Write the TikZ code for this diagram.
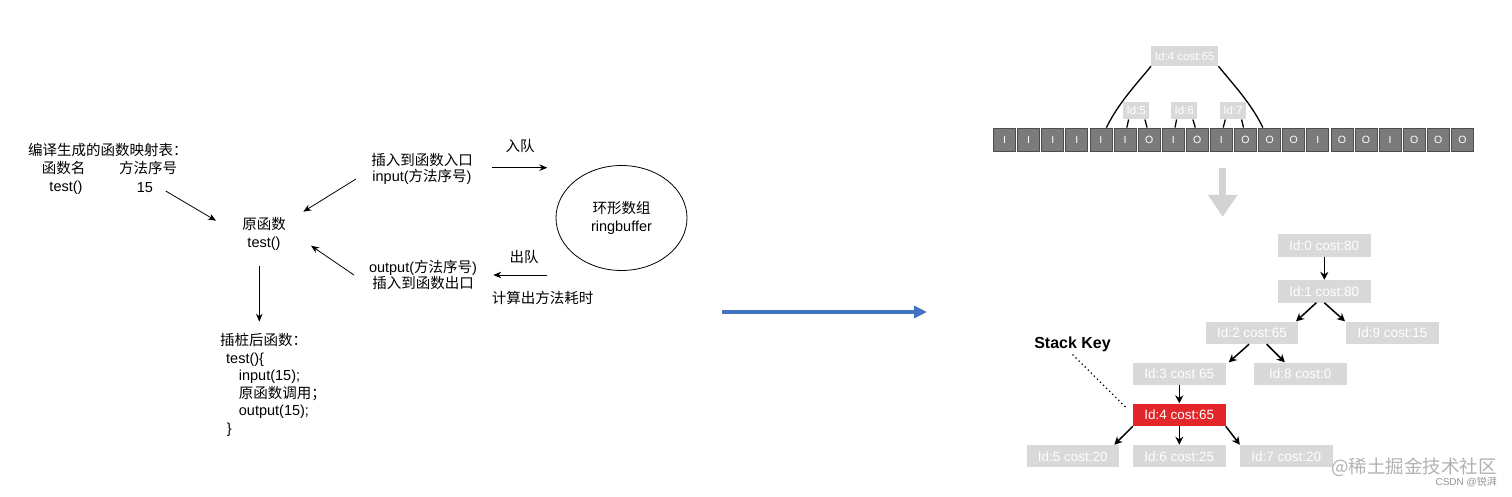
\documentclass[tikz,border=0pt]{standalone}
\usepackage{fontspec}
\setmainfont{Liberation Sans}
\newfontfamily\cjk{Noto Sans CJK SC}
\usetikzlibrary{arrows.meta,shapes.geometric}
\definecolor{boxgray}{HTML}{D9D9D9}
\definecolor{cellgray}{HTML}{7B7B7B}
\definecolor{celledge}{HTML}{4D4D4D}
\definecolor{redbox}{HTML}{E3262A}
\definecolor{blueline}{HTML}{4472C4}
\definecolor{arrgray}{HTML}{D3D3D3}
\begin{document}
\begin{tikzpicture}[x=1pt,y=-1pt,
  lt/.style={inner sep=0pt, font=\fontsize{14.5}{17.6}\selectfont, text=black},
  arr/.style={draw=black, line width=0.8pt, -{Stealth[length=8pt,width=6.5pt]}},
  tbox/.style={fill=boxgray, text=white, minimum width=92.5pt, minimum height=22.5pt, inner sep=0pt, font=\fontsize{13.5}{14}\selectfont},
  tarr/.style={draw=black, line width=1.5pt, -{Stealth[length=8pt,width=8pt]}},
  ucell/.style={draw=celledge, fill=cellgray, line width=0.8pt, minimum width=22pt, minimum height=23pt, inner sep=0pt, text=white, font=\fontsize{10.5}{11}\selectfont},
  lbox/.style={fill=boxgray, text=white, inner sep=0pt, font=\fontsize{11.5}{12}\selectfont},
  arcline/.style={draw=black, line width=1.3pt},
]
\fill[white] (0,0) rectangle (1512,497);
\useasboundingbox (0,0) rectangle (1512,497);

% ---------------- left part ----------------
\node[lt, anchor=west] (title) at (28,150) {\cjk 编译生成的函数映射表：};
\node[lt] (hname) at (63.5,168) {\cjk 函数名};
\node[lt] (hidx) at (148,168) {\cjk 方法序号};
\node[lt] (ntest) at (66,188) {test()};
\node[lt] (n15) at (145,188) {15};
\node[lt, align=center, font=\fontsize{14.5}{18}\selectfont] (orig) at (264,234) {{\cjk 原函数}\\test()};
\node[lt, align=center, font=\fontsize{14.5}{16}\selectfont] (inn) at (422,169) {{\cjk 插入到函数入口}\\input({\cjk 方法序号})};
\node[lt, align=center, font=\fontsize{14.5}{15.5}\selectfont] (outn) at (423,275) {output({\cjk 方法序号})\\{\cjk 插入到函数出口}};
\node[lt] (enq) at (520,146) {\cjk 入队};
\node[lt] (deq) at (524,257) {\cjk 出队};
\node[lt] (calc) at (542.5,298) {\cjk 计算出方法耗时};
\node[draw, ellipse, line width=0.8pt, minimum width=131pt, minimum height=105pt, inner sep=0pt, align=center, font=\fontsize{14.5}{17.7}\selectfont] (ring) at (621.5,218) {{\cjk 环形数组}\\ringbuffer};
\node[lt, anchor=north west, align=left] (after) at (220,333)
  {{\cjk 插桩后函数：}\\\hspace*{6pt}test()\{\\\hspace*{18.7pt}input(15);\\\hspace*{18.7pt}{\cjk 原函数调用；}\\\hspace*{18.7pt}output(15);\\\hspace*{6.7pt}\}};

\draw[arr] ([shift={(20.7,3)}]n15.center) -- ([shift={(-48,-13.3)}]orig.center);
\draw[arr] ([shift={(-66,10)}]inn.center) -- ([shift={(39.3,-22.3)}]orig.center);
\draw[arr] ([shift={(-69,0)}]outn.center) -- ([shift={(47,11.7)}]orig.center);
\draw[arr] ([shift={(-4.7,32)}]orig.center) -- ([shift={(39.3,-11.3)}]after.north west);
\draw[arr] ([shift={(69.7,-1.3)}]inn.center) -- ([shift={(-74.2,-50.3)}]ring.center);
\draw[arr] ([shift={(-74.2,57)}]ring.center) -- ([shift={(70.3,0)}]outn.center);

% ---------------- blue arrow ----------------
\coordinate (ba1) at (722,312);
\coordinate (ba2) at (927,312);
\draw[blueline, line width=3.7pt, -{Triangle[length=13pt,width=12pt]}] (ba1) -- (ba2);

% ---------------- buffer row ----------------
\foreach \lab [count=\i] in {I,I,I,I,I,I,O,I,O,I,O,O,O,I,O,O,I,O,O,O}
  \node[ucell] (c\i) at ({1004.5+(\i-1)*24.1},139.5) {\lab};

\node[lbox, minimum width=67pt, minimum height=20pt] (top4) at (1184.7,56) {Id:4 cost:65};
\node[lbox, minimum width=26pt, minimum height=17.6pt] (id5) at (1136.3,110.5) {Id:5};
\node[lbox, minimum width=26pt, minimum height=17.6pt] (id6) at (1184.3,110.5) {Id:6};
\node[lbox, minimum width=26pt, minimum height=17.6pt] (id7) at (1233,110.5) {Id:7};

\draw[arcline] ([shift={(-5.9,0)}]c5.north east) .. controls +(12,-24.6) and +(-15,18.5) .. (top4.south west);
\draw[arcline] (top4.south east) .. controls +(15,18.5) and +(-12,-24.6) .. ([shift={(4.7,0)}]c12.north west);
\foreach \b/\l/\r in {id5/6/7, id6/8/9, id7/10/11} {
  \draw[arcline] ([shift={(5.5,0)}]\b.south west) -- ([shift={(1.8,0)}]c\l.north);
  \draw[arcline] ([shift={(-4.6,0)}]\b.south east) -- ([shift={(-2,0)}]c\r.north);
}

% ---------------- gray arrow ----------------
\coordinate (ga1) at (1222.7,168);
\coordinate (ga2) at (1222.7,217);
\draw[arrgray, line width=7pt, -{Triangle[length=22pt,width=28pt]}] (ga1) -- (ga2);

% ---------------- tree ----------------
\node[tbox] (t0) at (1324.3,245.3) {Id:0 cost:80};
\node[tbox] (t1) at (1324.3,291.3) {Id:1 cost:80};
\node[tbox] (t2) at (1252,332.8) {Id:2 cost:65};
\node[tbox] (t9) at (1392.5,332.8) {Id:9 cost:15};
\node[tbox] (t3) at (1179.3,373.8) {Id:3 cost 65};
\node[tbox] (t8) at (1300.3,373.8) {Id:8 cost:0};
\node[tbox, fill=redbox] (t4) at (1179.3,414.8) {Id:4 cost:65};
\node[tbox] (t5) at (1072.8,456.2) {Id:5 cost:20};
\node[tbox] (t6) at (1179.3,456.2) {Id:6 cost:25};
\node[tbox] (t7) at (1286.3,456.2) {Id:7 cost:20};

\draw[tarr] (t0) -- (t1);
\draw[tarr] ([shift={(-8,0)}]t1.south) -- ([shift={(44,0)}]t2.north);
\draw[tarr] (t1.south) -- ([shift={(-1,0)}]t9.north west);
\draw[tarr] ([shift={(-3,0)}]t2.south) -- ([shift={(3,0)}]t3.north east);
\draw[tarr] ([shift={(14.7,0)}]t2.south) -- ([shift={(31,0)}]t8.north west);
\draw[tarr] (t3) -- (t4);
\draw[tarr] (t4.south west) -- ([shift={(-5,0)}]t5.north east);
\draw[tarr] (t4) -- (t6);
\draw[tarr] (t4.south east) -- (t7.north west);

\node[font=\fontsize{16}{18}\selectfont\bfseries, inner sep=0pt] (sk) at (1072.5,344.5) {Stack Key};
\draw[line width=1.8pt, line cap=round, dash pattern=on 0pt off 4.3pt] ([shift={(0.5,10.5)}]sk.center) -- ([shift={(-6,5)}]t4.north west);

% ---------------- watermark ----------------
\node[font=\cjk\fontsize{18.5}{20}\selectfont, text=gray!60, anchor=east, inner sep=0pt] (wm1) at (1497,467) {@稀土掘金技术社区};
\node[font=\fontsize{10}{11}\selectfont, text=gray!85, anchor=east, inner sep=0pt] (wm2) at (1497,482) {CSDN @{\cjk 锐湃}};
\end{tikzpicture}
\end{document}
